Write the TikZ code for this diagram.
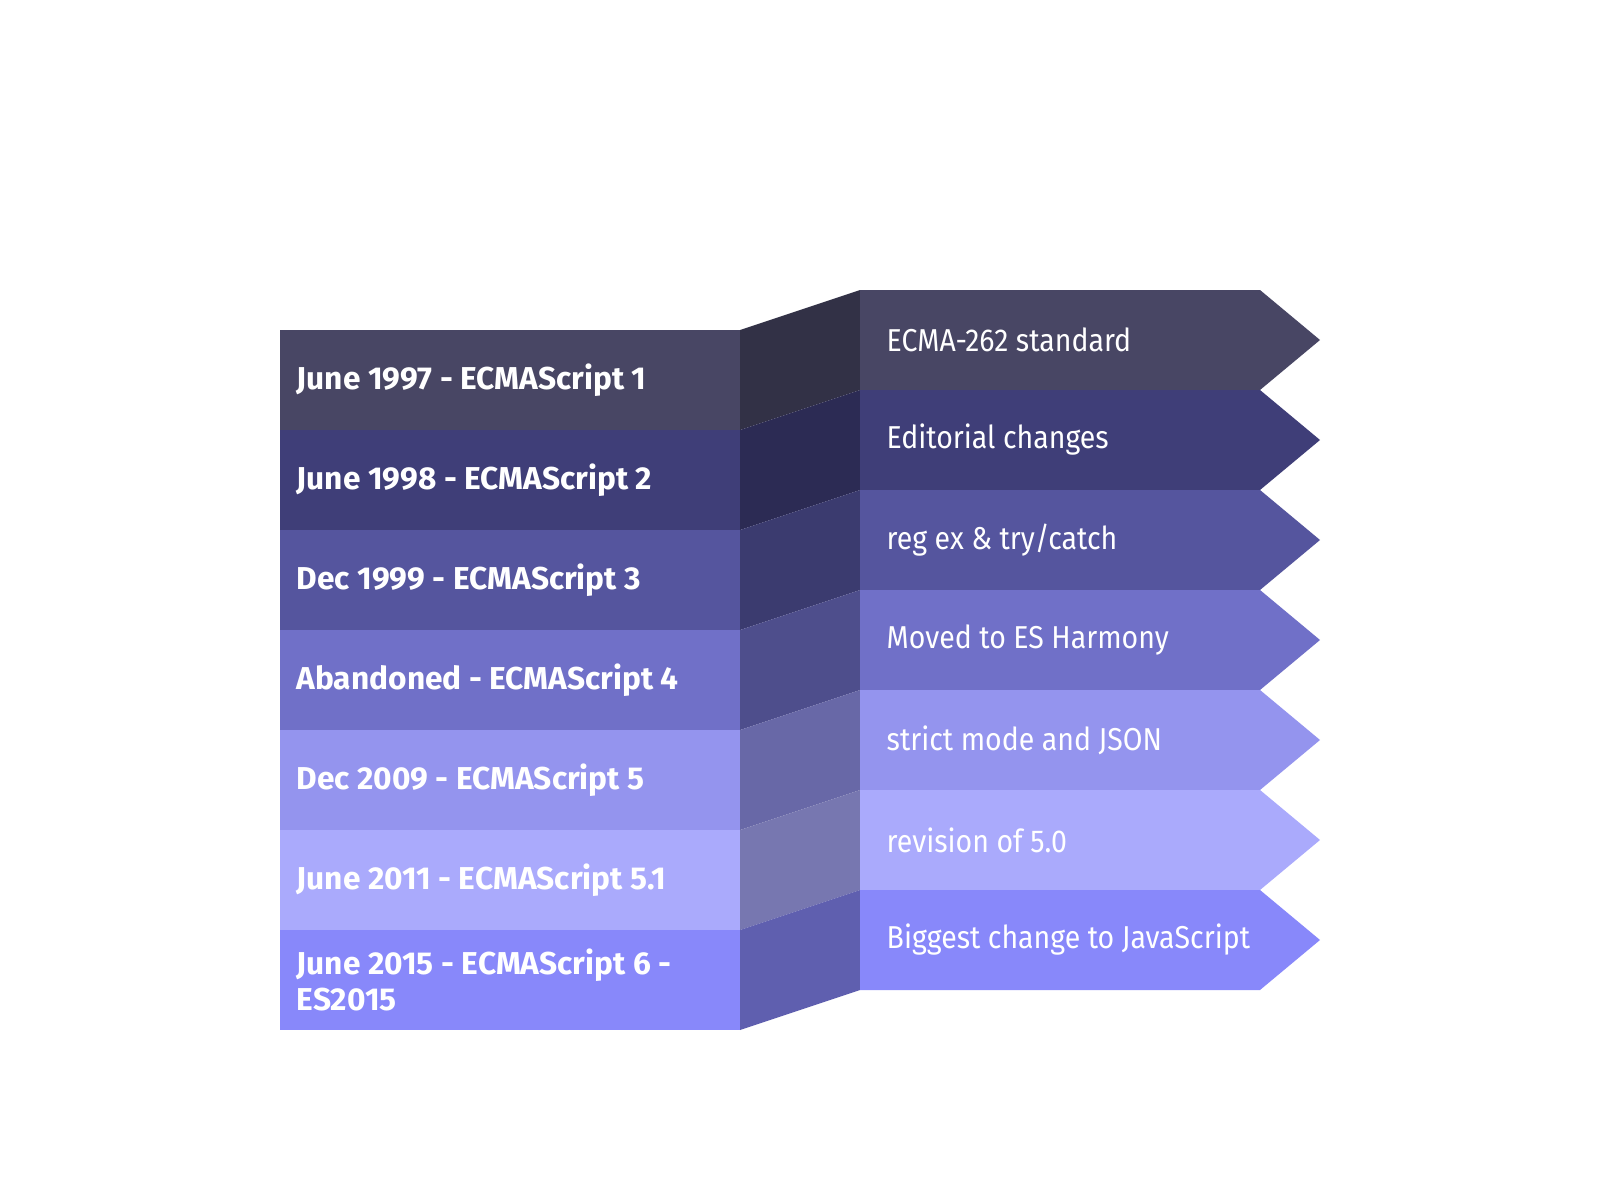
\documentclass[tikz,border=0pt]{standalone}
\usepackage{fontspec}
\setmainfont{Fira Sans}
\newfontfamily\rightfont{Fira Sans}[FakeStretch=0.9]
\definecolor{c1}{HTML}{484664}
\definecolor{c2}{HTML}{3F3E78}
\definecolor{c3}{HTML}{55559E}
\definecolor{c4}{HTML}{7070C8}
\definecolor{c5}{HTML}{9494EE}
\definecolor{c6}{HTML}{AAAAFC}
\definecolor{c7}{HTML}{8888FA}
\tikzset{
  lefttext/.style={anchor=west,text=white,font=\fontsize{9}{10.2}\selectfont\bfseries,align=left,inner sep=0pt},
  righttext/.style={anchor=west,text=white,font=\rightfont\fontsize{9}{11}\selectfont,inner sep=0pt}
}
\begin{document}
\begin{tikzpicture}[x=0.01cm,y=-0.01cm]
\useasboundingbox (0,0) rectangle (1600,1200);
\foreach \i/\c in {0/c1,1/c2,2/c3,3/c4,4/c5,5/c6,6/c7}{
  \fill[\c] (280,{330+100*\i}) rectangle (740,{430+100*\i});
  \fill[\c!70!black] (740,{330+100*\i}) -- (860,{290+100*\i}) -- (860,{390+100*\i}) -- (740,{430+100*\i}) -- cycle;
  \fill[\c] (860,{290+100*\i}) -- (1260,{290+100*\i}) -- (1320,{340+100*\i}) -- (1260,{390+100*\i}) -- (860,{390+100*\i}) -- cycle;
}
\node[lefttext] (l1) at (296,380) {June 1997 - ECMAScript 1};
\node[lefttext] (l2) at (296,480) {June 1998 - ECMAScript 2};
\node[lefttext] (l3) at (296,580) {Dec 1999 - ECMAScript 3};
\node[lefttext] (l4) at (296,680) {Abandoned - ECMAScript 4};
\node[lefttext] (l5) at (296,780) {Dec 2009 - ECMAScript 5};
\node[lefttext] (l6) at (296,880) {June 2011 - ECMAScript 5.1};
\node[lefttext] (l7) at (296,980) {June 2015 - ECMAScript 6 -\\ES2015};
\node[righttext] (r1) at (886,340) {ECMA-262 standard};
\node[righttext] (r2) at (886,440) {Editorial changes};
\node[righttext] (r3) at (886,540) {reg ex \& try/catch};
\node[righttext] (r4) at (886,640) {Moved to ES Harmony};
\node[righttext] (r5) at (886,740) {strict mode and JSON};
\node[righttext] (r6) at (886,840) {revision of 5.0};
\node[righttext] (r7) at (886,940) {Biggest change to JavaScript};
\end{tikzpicture}
\end{document}
